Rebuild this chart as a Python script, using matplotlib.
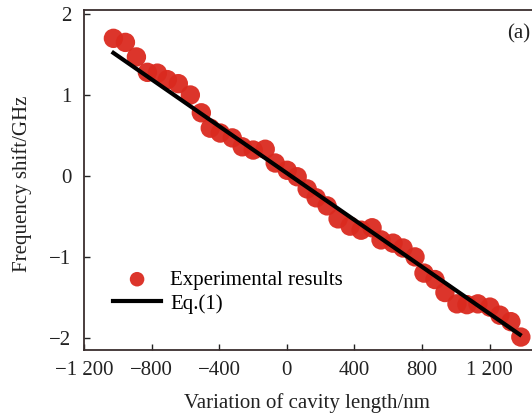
import matplotlib
matplotlib.use("Agg")
import matplotlib.pyplot as plt
from matplotlib.ticker import FixedLocator

# Data
exp_x = [-1026, -955, -890, -825, -766, -707, -642, -571, -506, -453, -394, -323,
         -264, -199, -128, -69, 2, 61, 120, 173, 238, 303, 374, 439, 504, 557,
         628, 687, 758, 811, 876, 935, 1006, 1065, 1130, 1201, 1260, 1325, 1384]
exp_y = [1.70, 1.65, 1.47, 1.28, 1.27, 1.19, 1.14, 1.00, 0.78, 0.59, 0.53, 0.47,
         0.36, 0.32, 0.33, 0.16, 0.07, -0.01, -0.16, -0.27, -0.37, -0.53, -0.62,
         -0.67, -0.64, -0.79, -0.83, -0.89, -1.00, -1.20, -1.28, -1.44, -1.58,
         -1.59, -1.58, -1.62, -1.72, -1.80, -1.99]
eq_x = [-1026, 1378]
eq_y = [1.52, -1.96]

xticks = [-1200, -800, -400, 0, 400, 800, 1200]
xtick_labels = ["\u22121 200", "\u2212800", "\u2212400", "0", "400", "800", "1 200"]
yticks = [-2, -1, 0, 1, 2]
ytick_labels = ["\u22122", "\u22121", "0", "1", "2"]

plt.rcParams['font.family'] = ['Liberation Serif', 'DejaVu Serif']

W, H = 532, 413
fig = plt.figure(figsize=(W / 100, H / 100), dpi=100)
ax = fig.add_axes([84 / W, 63 / H, 448 / W, 340 / H])

red = '#da2a1f'
ax.scatter(exp_x, exp_y, s=195, color=red, edgecolors='none', alpha=0.95,
           zorder=2, label='Experimental results')
ax.plot(eq_x, eq_y, color='black', lw=3.0, zorder=3, label='Eq.(1)')

ax.set_xlim(-1200, 1450)
ax.set_ylim(-2.15, 2.05)
ax.xaxis.set_major_locator(FixedLocator(xticks))
ax.set_xticklabels(xtick_labels)
ax.yaxis.set_major_locator(FixedLocator(yticks))
ax.set_yticklabels(ytick_labels)

ax.tick_params(axis='both', direction='in', length=4, width=1.0,
               labelsize=15, colors='#222222')
ax.tick_params(axis='x', pad=8)
ax.tick_params(axis='y', pad=9)

for side in ['left', 'bottom', 'top']:
    ax.spines[side].set_color('#3a2e2e')
    ax.spines[side].set_linewidth(1.3)
ax.spines['right'].set_visible(False)

ax.set_xlabel('Variation of cavity length/nm', fontsize=15, color='#222222')
ax.set_ylabel('Frequency shift/GHz', fontsize=15, color='#222222')
ax.xaxis.set_label_coords(0.498, -0.127)
ax.yaxis.set_label_coords(-0.115, 0.49)

ax.text(0.995, 0.93, '(a)', transform=ax.transAxes, fontsize=15,
        ha='right', va='center', color='#222222')

leg = ax.legend(loc='upper left', bbox_to_anchor=(0.065, 0.235),
                frameon=False, fontsize=15, borderpad=0, borderaxespad=0,
                handlelength=2.3, handletextpad=0.45, labelspacing=0.2,
                markerscale=0.75)

fig.savefig('out.png', dpi=100)
